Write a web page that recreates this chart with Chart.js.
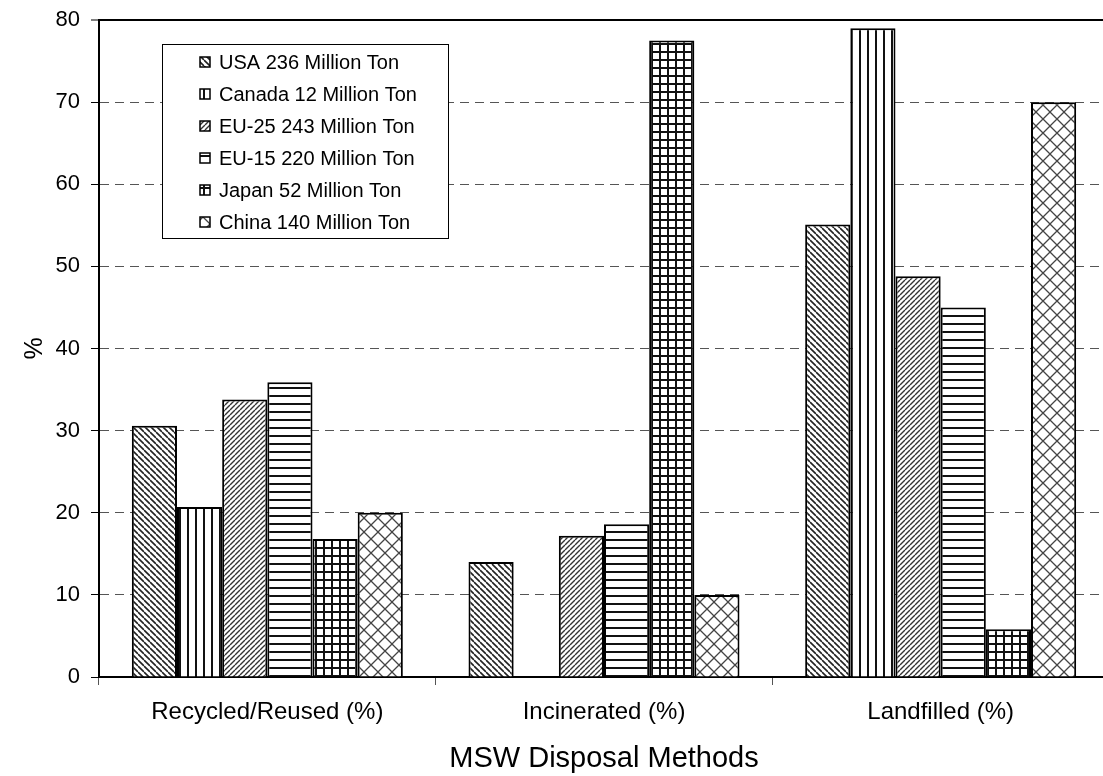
<!DOCTYPE html>
<html><head><meta charset="utf-8">
<script src="https://cdn.jsdelivr.net/npm/chart.js@4"></script>
<style>
html,body{margin:0;padding:0;background:#fff;overflow:hidden;width:1103px;height:776px}
#wrap{position:absolute;left:0;top:0;width:1112px;height:776px}
</style></head><body>
<div id="wrap"><canvas id="c"></canvas></div>
<script>
// ---- data ----
const categories = ['Recycled/Reused (%)', 'Incinerated (%)', 'Landfilled (%)'];
const seriesNames = ['USA 236 Million Ton', 'Canada 12 Million Ton', 'EU-25 243 Million Ton', 'EU-15 220 Million Ton', 'Japan 52 Million Ton', 'China 140 Million Ton'];
const usa    = [30.6, 14.0, 55.1];
const canada = [20.7, 0,    79.0];
const eu25   = [33.8, 17.2, 48.8];
const eu15   = [35.9, 18.6, 45.0];
const japan  = [16.8, 77.5, 5.8];
const china  = [20.0, 10.0, 70.0];
const yTickValues = [0, 10, 20, 30, 40, 50, 60, 70, 80];
const xTitle = 'MSW Disposal Methods';
const yTitle = '%';

const FONT = '"Liberation Sans", Arial, sans-serif';

// ---- fill patterns ----
function makePattern(size, draw) {
  const c = document.createElement('canvas');
  c.width = size; c.height = size;
  const g = c.getContext('2d');
  g.fillStyle = '#fff'; g.fillRect(0, 0, size, size);
  draw(g, size);
  return g.createPattern(c, 'repeat');
}
const patBack = makePattern(6, (g, s) => { // "\" diagonals
  g.strokeStyle = '#222'; g.lineWidth = 1.6; g.beginPath();
  for (const k of [-s, 0, s]) { g.moveTo(0, k); g.lineTo(s, s + k); }
  g.stroke();
});
const patVert = makePattern(8, (g, s) => {
  g.fillStyle = '#111'; g.fillRect(3, 0, 2, s);
});
const patFwd = makePattern(5, (g, s) => { // "/" diagonals
  g.strokeStyle = '#333'; g.lineWidth = 1.4; g.beginPath();
  for (const c of [0, s, 2 * s]) { g.moveTo(0, c); g.lineTo(s, c - s); }
  g.stroke();
});
const patHoriz = makePattern(8, (g, s) => {
  g.fillStyle = '#111'; g.fillRect(0, 3, s, 2);
});
const patGrid = makePattern(8, (g, s) => {
  g.fillStyle = '#111'; g.fillRect(3, 0, 2, s); g.fillRect(0, 3, s, 2);
});
const patDiamond = makePattern(14, (g, s) => {
  g.strokeStyle = '#444'; g.lineWidth = 1.3; g.beginPath();
  g.moveTo(0, 0); g.lineTo(s, s); g.moveTo(0, s); g.lineTo(s, 0);
  g.stroke();
});

const seriesValues = [usa, canada, eu25, eu15, japan, china];
const seriesFills = [patBack, patVert, patFwd, patHoriz, patGrid, patDiamond];

const datasets = seriesNames.map((name, i) => ({
  label: name,
  data: seriesValues[i],
  backgroundColor: seriesFills[i],
  borderColor: '#000',
  borderWidth: 2,
  categoryPercentage: 0.805,
  barPercentage: 1.0
}));

// legend drawn inside plot, boxed
const boxLegend = {
  id: 'boxLegend',
  afterDraw(chart, args, o) {
    const ctx = chart.ctx;
    ctx.save();
    ctx.fillStyle = '#fff';
    ctx.fillRect(o.x, o.y, o.w, o.h);
    ctx.strokeStyle = '#000'; ctx.lineWidth = 1;
    ctx.strokeRect(o.x + 0.5, o.y + 0.5, o.w, o.h);
    ctx.font = o.fontSize + 'px ' + FONT;
    ctx.textBaseline = 'middle';
    chart.data.datasets.forEach((ds, i) => {
      const cy = o.firstY + i * o.rowH;
      ctx.fillStyle = ds.backgroundColor;
      ctx.fillRect(o.boxX, cy - o.box / 2, o.box, o.box);
      ctx.strokeStyle = '#000'; ctx.lineWidth = 1.5;
      ctx.strokeRect(o.boxX, cy - o.box / 2, o.box, o.box);
      ctx.fillStyle = '#000';
      ctx.fillText(ds.label, o.textX, cy + 1);
    });
    ctx.restore();
  }
};

new Chart(document.getElementById('c'), {
  type: 'bar',
  data: { labels: categories, datasets },
  plugins: [boxLegend],
  options: {
    responsive: true,
    maintainAspectRatio: false,
    animation: false,
    layout: { padding: { top: 20, right: 3, left: 0, bottom: 0 } },
    plugins: {
      legend: { display: false },
      tooltip: { enabled: false },
      boxLegend: { x: 162, y: 44, w: 286, h: 194, boxX: 200, box: 10, textX: 219, firstY: 62, rowH: 32, fontSize: 20 }
    },
    scales: {
      x: {
        ticks: { color: '#000', font: { family: FONT, size: 24 }, padding: 13 },
        grid: { display: true, drawOnChartArea: false, drawTicks: true, tickLength: 8, tickColor: '#555', offset: true },
        border: { display: true, color: '#000', width: 2 },
        title: { display: true, text: xTitle, color: '#000', font: { family: FONT, size: 29 }, padding: { top: 0, bottom: 0 } },
        afterFit(s) { s.height = 99; }
      },
      y: {
        min: 0, max: 80,
        afterBuildTicks(s) { s.ticks = yTickValues.map(v => ({ value: v })); },
        ticks: { color: '#000', font: { family: FONT, size: 22 }, padding: 11 },
        grid: {
          color: c => (c.tick && c.tick.value === 80) ? '#000' : '#555',
          lineWidth: c => (c.tick && c.tick.value === 80) ? 2 : 1,
          tickLength: 8, tickColor: '#000', tickWidth: 1
        },
        border: { display: true, color: '#000', width: 2, dash: c => (c.tick && c.tick.value === 80) ? [] : [9, 6] },
        title: { display: true, text: yTitle, color: '#000', font: { family: FONT, size: 25 }, padding: { top: 20, bottom: 0 } },
        afterFit(s) { s.width = 99; s.paddingTop = 2; s.paddingBottom = 2; }
      }
    }
  }
});
</script>
</body></html>
